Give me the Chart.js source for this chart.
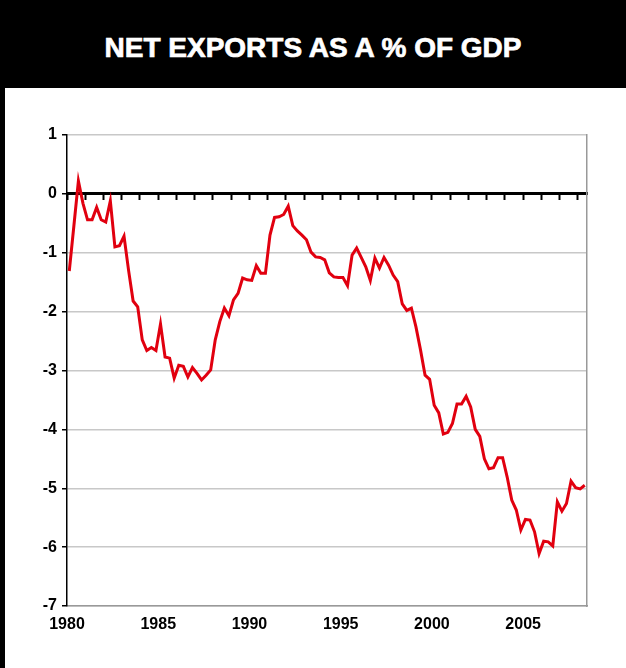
<!DOCTYPE html>
<html>
<head>
<meta charset="utf-8">
<script src="https://cdn.jsdelivr.net/npm/chart.js@4"></script>
<style>
  html, body { margin: 0; padding: 0; background: #fff; }
  body { width: 626px; height: 668px; position: relative; overflow: hidden; }
  #header {
    position: absolute; left: 0; top: 0; width: 626px; height: 88px;
    background: #000; color: #fff;
    font: bold 28px "Liberation Sans", Arial, sans-serif;
    -webkit-text-stroke: 0.7px #fff;
    box-sizing: border-box; padding-top: 8px;
    display: flex; align-items: center; justify-content: center;
  }
  #leftbar { position: absolute; left: 0; top: 88px; width: 5px; height: 580px; background: #000; }
  #chart { position: absolute; left: 0; top: 88px; }
</style>
</head>
<body>
<div id="header">NET EXPORTS AS A % OF GDP</div>
<div id="leftbar"></div>
<canvas id="chart" width="626" height="580"></canvas>
<script>
// quarterly data, first point = 1980 Q1
const startYear = 1980;
const netExports = [
  -1.31, -0.55, 0.22, -0.16, -0.44, -0.44, -0.23, -0.44, -0.48, -0.12,
  -0.90, -0.88, -0.72, -1.30, -1.82, -1.92, -2.48, -2.66, -2.61, -2.66,
  -2.21, -2.77, -2.79, -3.13, -2.91, -2.93, -3.11, -2.95, -3.05, -3.16,
  -3.08, -2.99, -2.48, -2.17, -1.94, -2.07, -1.80, -1.69, -1.43, -1.46,
  -1.47, -1.22, -1.35, -1.35, -0.70, -0.40, -0.39, -0.35, -0.21, -0.54,
  -0.63, -0.70, -0.78, -0.99, -1.07, -1.08, -1.12, -1.34, -1.41, -1.42,
  -1.42, -1.56, -1.04, -0.92, -1.08, -1.24, -1.47, -1.09, -1.26, -1.08,
  -1.21, -1.38, -1.49, -1.87, -1.98, -1.94, -2.26, -2.65, -3.08, -3.15,
  -3.59, -3.72, -4.08, -4.05, -3.90, -3.57, -3.57, -3.44, -3.62, -4.00,
  -4.12, -4.50, -4.67, -4.65, -4.48, -4.48, -4.81, -5.20, -5.37, -5.71,
  -5.53, -5.54, -5.74, -6.11, -5.90, -5.91, -5.98, -5.23, -5.39, -5.26,
  -4.88, -4.99, -5.01, -4.95
];
const yearTicks = [1980, 1985, 1990, 1995, 2000, 2005];
const valueTicks = [1, 0, -1, -2, -3, -4, -5, -6, -7];

const xMin = 1980, xMax = 2008.5;
const labelFont = { family: "'Liberation Sans', Arial, sans-serif", size: 16, weight: 'bold' };

const points = netExports.map((v, i) => ({ x: startYear + (i + 0.5) / 4, y: v }));

const ctx = document.getElementById('chart').getContext('2d');
new Chart(ctx, {
  type: 'line',
  data: {
    datasets: [{
      data: points,
      borderColor: '#e1000f',
      borderWidth: 3,
      pointRadius: 0,
      tension: 0,
      fill: false,
      xAxisID: 'x',
      yAxisID: 'y'
    }]
  },
  options: {
    responsive: false,
    animation: false,
    layout: { padding: { top: 47, right: 39, left: 0, bottom: 0 } },
    plugins: { legend: { display: false }, tooltip: { enabled: false } },
    scales: {
      x: {
        type: 'linear', position: 'bottom', min: xMin, max: xMax,
        afterFit: (s) => { s.height = 62; },
        afterBuildTicks: (s) => { s.ticks = yearTicks.map(v => ({ value: v })); },
        ticks: { padding: 9, color: '#000', font: labelFont, maxRotation: 0, callback: (v) => String(v) },
        grid: { display: false, drawTicks: false },
        border: { color: '#999', width: 1.5 }
      },
      zero: {
        type: 'linear', axis: 'x', position: { y: 0 }, min: xMin, max: xMax,
        ticks: { display: false, stepSize: 1, includeBounds: false },
        grid: { drawOnChartArea: false, tickLength: 5, tickColor: '#000', tickWidth: 2 },
        border: { color: '#000', width: 3 }
      },
      y: {
        type: 'linear', position: 'left', min: -7, max: 1,
        afterFit: (s) => { s.width = 67; },
        afterBuildTicks: (s) => { s.ticks = valueTicks.map(v => ({ value: v })); },
        ticks: { padding: 5, color: '#000', font: labelFont, callback: (v) => String(v) },
        grid: { color: '#c8c8c8', lineWidth: 1.5, tickColor: '#000', tickLength: 5 },
        border: { color: '#000', width: 1.5 }
      },
      right: {
        type: 'linear', axis: 'y', position: 'right', min: -7, max: 1,
        afterFit: (s) => { s.width = 0; },
        ticks: { display: false },
        grid: { display: false, drawTicks: false },
        border: { color: '#999', width: 1.5 }
      }
    }
  }
});
</script>
</body>
</html>
